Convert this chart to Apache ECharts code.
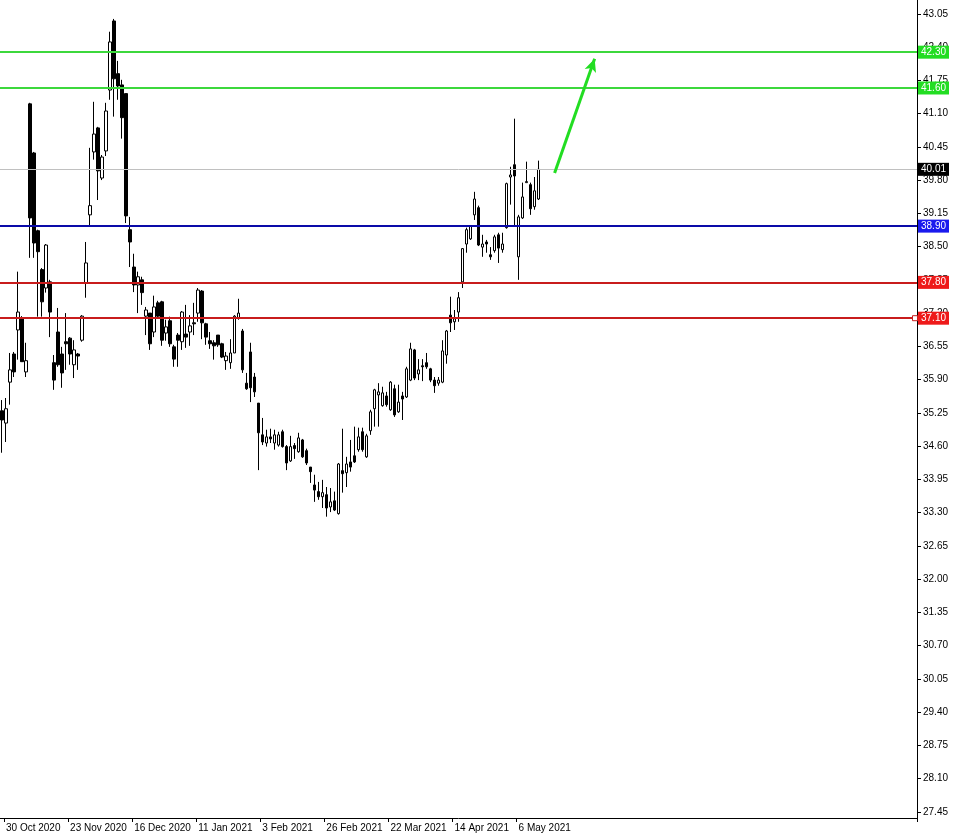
<!DOCTYPE html>
<html><head><meta charset="utf-8">
<script src="https://cdn.jsdelivr.net/npm/echarts@6/dist/echarts.min.js"></script>
<style>html,body{margin:0;padding:0;background:#fff}#c{width:953px;height:836px}</style>
</head><body><div id="c"></div>
<script>
const dates = [
'29 Oct 2020','30 Oct 2020',
'2 Nov 2020','3 Nov 2020','4 Nov 2020','5 Nov 2020','6 Nov 2020','9 Nov 2020','10 Nov 2020','11 Nov 2020','12 Nov 2020','13 Nov 2020',
'16 Nov 2020','17 Nov 2020','18 Nov 2020','19 Nov 2020','20 Nov 2020','23 Nov 2020','24 Nov 2020','25 Nov 2020','27 Nov 2020','30 Nov 2020',
'1 Dec 2020','2 Dec 2020','3 Dec 2020','4 Dec 2020','7 Dec 2020','8 Dec 2020','9 Dec 2020','10 Dec 2020','11 Dec 2020','14 Dec 2020',
'15 Dec 2020','16 Dec 2020','17 Dec 2020','18 Dec 2020','21 Dec 2020','22 Dec 2020','23 Dec 2020','24 Dec 2020','28 Dec 2020','29 Dec 2020',
'30 Dec 2020','31 Dec 2020',
'4 Jan 2021','5 Jan 2021','6 Jan 2021','7 Jan 2021','8 Jan 2021','11 Jan 2021','12 Jan 2021','13 Jan 2021','14 Jan 2021','15 Jan 2021',
'19 Jan 2021','20 Jan 2021','21 Jan 2021','22 Jan 2021','25 Jan 2021','26 Jan 2021','27 Jan 2021','28 Jan 2021','29 Jan 2021',
'1 Feb 2021','2 Feb 2021','3 Feb 2021','4 Feb 2021','5 Feb 2021','8 Feb 2021','9 Feb 2021','10 Feb 2021','11 Feb 2021','12 Feb 2021',
'16 Feb 2021','17 Feb 2021','18 Feb 2021','19 Feb 2021','22 Feb 2021','23 Feb 2021','24 Feb 2021','25 Feb 2021','26 Feb 2021',
'1 Mar 2021','2 Mar 2021','3 Mar 2021','4 Mar 2021','5 Mar 2021','8 Mar 2021','9 Mar 2021','10 Mar 2021','11 Mar 2021','12 Mar 2021',
'15 Mar 2021','16 Mar 2021','17 Mar 2021','18 Mar 2021','19 Mar 2021','22 Mar 2021','23 Mar 2021','24 Mar 2021','25 Mar 2021','26 Mar 2021',
'29 Mar 2021','30 Mar 2021','31 Mar 2021',
'1 Apr 2021','5 Apr 2021','6 Apr 2021','7 Apr 2021','8 Apr 2021','9 Apr 2021','12 Apr 2021','13 Apr 2021','14 Apr 2021','15 Apr 2021',
'16 Apr 2021','19 Apr 2021','20 Apr 2021','21 Apr 2021','22 Apr 2021','23 Apr 2021','26 Apr 2021','27 Apr 2021','28 Apr 2021','29 Apr 2021','30 Apr 2021',
'3 May 2021','4 May 2021','5 May 2021','6 May 2021','7 May 2021','10 May 2021','11 May 2021','12 May 2021','13 May 2021'
];
const open = [35.29,35.05,35.85,36.40,36.87,37.11,36.05,41.29,40.33,38.81,
38.05,37.69,37.81,36.23,36.83,36.40,36.64,36.71,36.19,36.40,
36.67,37.79,39.12,40.35,40.82,39.84,40.37,41.56,42.91,41.88,
41.66,41.49,38.83,38.10,37.75,37.85,37.14,37.20,36.83,37.40,
37.42,36.81,37.05,36.54,36.77,36.64,36.79,36.83,37.01,37.20,
37.63,36.99,36.66,36.62,36.77,36.60,36.27,36.23,36.42,37.11,
36.85,35.83,36.44,35.95,35.44,34.82,34.66,34.78,34.66,34.62,
34.88,34.59,34.31,34.61,34.49,34.72,34.51,34.19,33.84,33.71,
33.61,33.65,33.41,33.53,33.28,34.12,34.08,34.29,34.41,34.53,
34.88,34.39,34.90,35.33,35.60,35.39,35.58,35.31,35.72,35.27,
35.58,35.56,35.89,36.48,36.01,36.17,36.23,36.11,35.89,35.83,
35.85,36.38,37.16,37.03,37.22,37.81,38.55,38.65,39.12,39.26,
38.49,38.59,38.34,38.42,38.73,38.44,38.87,39.86,40.10,38.30,
39.06,39.75,39.71,39.28,39.43];
const high = [35.50,35.54,36.42,36.44,38.01,37.14,36.62,41.31,40.35,38.83,
38.08,38.55,37.85,36.38,37.30,36.54,37.20,36.73,36.67,36.42,
37.16,38.59,40.43,41.33,40.84,40.29,41.31,42.70,42.95,42.13,
41.76,41.49,39.08,38.36,38.01,37.91,37.32,37.20,37.54,37.44,
37.44,37.07,37.13,36.58,36.81,37.24,37.36,37.16,37.40,37.69,
37.65,37.01,36.83,36.67,36.77,36.62,36.44,36.69,37.16,37.48,
36.89,36.03,36.62,36.03,35.44,35.15,34.92,34.94,34.92,34.88,
34.92,34.62,34.80,34.66,34.86,34.74,34.55,34.19,34.04,33.90,
33.94,33.80,33.78,33.71,34.27,34.94,34.39,34.72,34.98,34.96,
34.96,34.84,35.31,35.72,35.83,35.76,35.66,35.87,35.80,35.80,
35.66,36.15,36.62,36.50,36.30,36.30,36.42,36.13,35.95,35.95,
36.67,36.87,37.52,37.26,37.61,38.47,38.87,38.91,39.57,39.30,
38.73,38.63,38.49,38.73,38.77,38.77,39.75,40.06,41.00,39.12,
39.75,40.16,39.75,39.86,40.18];
const low = [34.47,34.68,35.41,35.95,36.29,36.25,35.95,38.28,38.28,37.13,
37.13,37.60,36.73,35.70,36.15,35.74,36.09,36.19,35.93,36.09,
36.64,37.50,38.89,40.20,39.41,39.80,40.27,41.37,41.04,41.37,
40.61,38.96,38.10,37.61,37.20,37.36,36.77,36.48,36.73,37.09,
36.56,36.66,36.54,36.15,36.15,36.48,36.52,36.56,36.77,37.03,
36.69,36.58,36.50,36.29,36.54,36.32,36.09,36.11,36.42,37.07,
36.03,35.70,35.46,35.56,34.13,34.62,34.59,34.66,34.53,34.59,
34.57,34.13,34.29,34.35,34.47,34.37,34.23,33.88,33.51,33.55,
33.39,33.22,33.31,33.33,33.26,33.69,33.80,34.10,34.27,34.49,
34.49,34.37,34.82,34.98,34.98,35.37,35.37,35.29,35.17,35.25,
35.11,35.54,35.87,35.89,35.89,35.87,36.11,35.85,35.64,35.78,
35.83,36.21,36.83,36.87,37.03,37.69,38.38,38.63,39.02,38.51,
38.30,38.38,38.24,38.38,38.18,38.38,38.85,39.32,38.89,37.85,
39.04,39.75,39.12,39.22,39.41];
const close = [35.11,35.33,36.09,36.05,37.22,36.25,36.27,39.06,38.57,38.40,
37.42,38.53,37.22,35.89,36.19,36.03,36.60,36.40,36.48,36.36,
37.14,38.18,39.30,40.70,39.98,40.25,41.15,42.50,41.78,41.64,
41.02,39.10,38.59,37.75,37.91,37.60,37.26,36.60,37.32,37.14,
36.67,36.93,36.60,36.30,36.67,37.22,36.73,36.95,36.99,37.65,
37.01,36.73,36.60,36.56,36.58,36.34,36.36,36.42,37.14,37.20,
36.09,35.72,35.74,35.66,34.86,34.68,34.78,34.74,34.82,34.82,
34.59,34.27,34.59,34.55,34.76,34.39,34.27,34.10,33.74,33.61,
33.69,33.39,33.51,33.35,34.25,34.06,34.25,34.19,34.29,34.78,
34.53,34.80,35.27,35.70,35.66,35.64,35.41,35.85,35.21,35.46,
35.52,36.11,36.50,35.93,36.09,36.15,36.15,35.89,35.78,35.89,
36.46,36.85,37.01,37.09,37.50,38.46,38.83,38.91,39.43,38.53,
38.55,38.55,38.30,38.69,38.47,38.55,39.73,39.90,39.88,39.08,
39.47,39.77,39.24,39.59,40.01];
const yTicks = [27.45,28.10,28.75,29.40,30.05,30.70,31.35,32.00,32.65,33.30,33.95,34.60,35.25,35.90,36.55,37.20,37.85,38.50,39.15,39.80,40.45,41.10,41.75,42.40,43.05];
const levels = {green: [42.30, 41.60], blue: [38.90], red: [37.80, 37.10]};
const lastPrice = 40.01;
const arrowStart = [138, 39.94];
const arrowEnd = [148, 42.17];
const anchorMark = [228, 37.10];

const TOTAL_SLOTS = 229;
const cats = dates.slice();
while (cats.length < TOTAL_SLOTS) cats.push('');
const ohlc = open.map((o, i) => [o, close[i], low[i], high[i]]);

const FONT = 'Liberation Sans';
function level(v, line, badge) {
  return {
    yAxis: v,
    lineStyle: {color: line, width: 2, type: 'solid'},
    label: {show: true, position: 'end', distance: 1, formatter: p => p.value.toFixed(2),
      color: '#fff', backgroundColor: badge, padding: [2, 3, 1, 3], fontSize: 10, fontFamily: FONT}
  };
}
const mlData = [
  level(lastPrice, '#c0c0c0', '#000'),
  ...levels.green.map(v => level(v, '#3cd83c', '#22dd22')),
  ...levels.blue.map(v => level(v, '#0a0aa8', '#1a1aee')),
  ...levels.red.map(v => level(v, '#c81c1c', '#ee1a1a')),
  [
    {coord: arrowStart, symbol: 'none', lineStyle: {color: '#22dd22', width: 3, type: 'solid'}, label: {show: false}},
    {coord: arrowEnd, symbol: 'arrow', symbolSize: [9, 13], lineStyle: {color: '#22dd22', width: 3, type: 'solid'}, label: {show: false}}
  ]
];
mlData[0].lineStyle.width = 1;

const chart = echarts.init(document.getElementById('c'), null, {renderer: 'canvas'});
chart.setOption({
  animation: false,
  backgroundColor: '#fff',
  grid: {left: 0, right: 36, top: 0, bottom: 18, containLabel: false},
  xAxis: {
    type: 'category', data: cats, boundaryGap: true,
    axisLine: {show: true, lineStyle: {color: '#000', width: 1}},
    axisTick: {show: true, length: 4, lineStyle: {color: '#000'}},
    axisLabel: {interval: (i) => i < dates.length && (i - 1) % 16 === 0, align: 'left',
      color: '#000', fontSize: 10, fontFamily: FONT, margin: 5},
    splitLine: {show: false}
  },
  yAxis: {
    type: 'value', position: 'right', min: 27.33, max: 43.32, scale: true,
    axisLine: {show: true, lineStyle: {color: '#000', width: 1}},
    axisTick: {show: true, length: 4, customValues: yTicks, lineStyle: {color: '#000'}},
    axisLabel: {customValues: yTicks, formatter: v => v.toFixed(2), color: '#000',
      fontSize: 10, fontFamily: FONT, margin: 6},
    splitLine: {show: false}
  },
  series: [{
    type: 'candlestick', data: ohlc, barWidth: 3,
    itemStyle: {color: '#fff', color0: '#000', borderColor: '#000', borderColor0: '#000', borderColorDoji: '#000', borderWidth: 1},
    markLine: {silent: true, symbol: ['none', 'none'], animation: false, precision: 2, data: mlData},
    markPoint: {silent: true, animation: false, data: [{coord: anchorMark, symbol: 'rect', symbolSize: 5,
      itemStyle: {color: '#fff', borderColor: '#c81c1c', borderWidth: 1}, label: {show: false}}]}
  }]
});
</script></body></html>
